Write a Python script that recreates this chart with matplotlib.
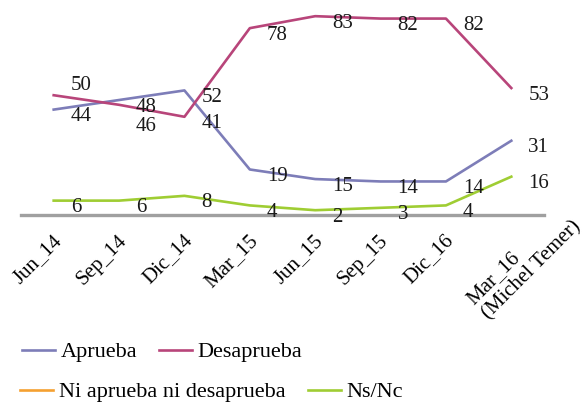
import matplotlib
matplotlib.use("Agg")
import matplotlib.pyplot as plt
from matplotlib.transforms import ScaledTranslation

plt.rcParams['font.family'] = ['Liberation Serif', 'DejaVu Serif']

categories = ["Jun_14", "Sep_14", "Dic_14", "Mar_15", "Jun_15", "Sep_15", "Dic_16",
              "Mar_16\n(Michel Temer)"]
aprueba = [44, 48, 52, 19, 15, 14, 14, 31]
desaprueba = [50, 46, 41, 78, 83, 82, 82, 53]
ni_ni = []  # no values shown
ns_nc = [6, 6, 8, 4, 2, 3, 4, 16]

c_apr = '#7d7db8'
c_des = '#b8457a'
c_ni = '#f5a031'
c_ns = '#9fcd33'

W, H = 588, 403
fig = plt.figure(figsize=(W / 100, H / 100), dpi=100)
ax = fig.add_axes([21 / W, 1 - 215 / H, (544 - 21) / W, (215 - 3) / H])

x = list(range(len(categories)))
lw = 1.9
l1, = ax.plot(x, aprueba, color=c_apr, lw=lw, label='Aprueba')
l2, = ax.plot(x, desaprueba, color=c_des, lw=lw, label='Desaprueba')
l3, = ax.plot(x[:len(ni_ni)], ni_ni, color=c_ni, lw=lw, label='Ni aprueba ni desaprueba')
l4, = ax.plot(x, ns_nc, color=c_ns, lw=lw, label='Ns/Nc')

ax.set_xlim(-0.5, len(categories) - 0.5)
ax.set_ylim(0, 88.5)
for s in ['top', 'right', 'left']:
    ax.spines[s].set_visible(False)
ax.spines['bottom'].set_color('#a0a0a0')
ax.spines['bottom'].set_linewidth(2.4)
ax.set_yticks([])
ax.tick_params(axis='x', length=0, pad=12)
ax.set_xticks(x)
labels = ax.set_xticklabels(categories, rotation=45, ha='right', va='center',
                            rotation_mode='anchor', fontsize=15)
for lbl in labels[:-1]:
    lbl.set_transform(lbl.get_transform() + ScaledTranslation(0.05, -0.06, fig.dpi_scale_trans))
last = labels[-1]
last.set_multialignment('left')
last.set_transform(last.get_transform() + ScaledTranslation(0.59, 0.15, fig.dpi_scale_trans))

px = 0.72
fs = 15
def label_series(vals, special=None):
    special = special or {}
    for i, v in enumerate(vals):
        dy = special.get(i, 7)
        ax.annotate(str(v), (i, v), xytext=(17 * px, -dy * px), textcoords='offset points',
                    ha='left', va='center', fontsize=fs, color='#1a1a1a')

label_series(aprueba)
label_series(desaprueba, {0: -10, 1: 22})
label_series(ns_nc)

leg_kw = dict(frameon=False, fontsize=16, handlelength=1.5, handletextpad=0.25,
              borderpad=0, borderaxespad=0, ncol=2, loc='center left')
lg1 = fig.legend([l1, l2], ['Aprueba', 'Desaprueba'], bbox_to_anchor=(22 / W, 1 - 352 / H),
                 columnspacing=0.95, **leg_kw)
lg2 = fig.legend([l3, l4], ['Ni aprueba ni desaprueba', 'Ns/Nc'],
                 bbox_to_anchor=(20 / W, 1 - 392 / H), columnspacing=1.0, **leg_kw)

fig.savefig('out.png', dpi=100)
